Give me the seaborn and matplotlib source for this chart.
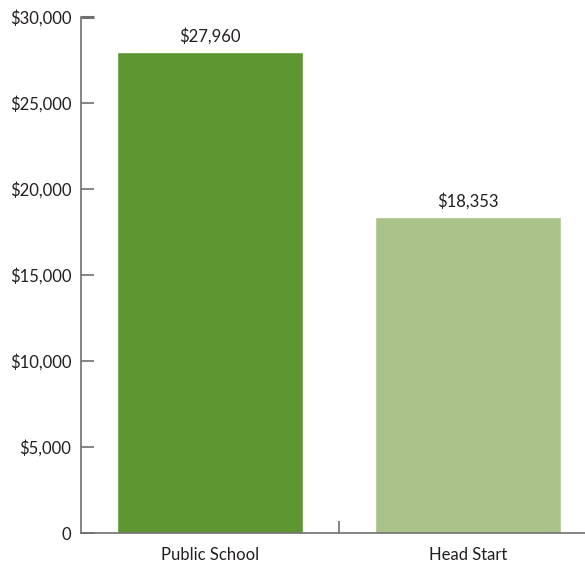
import pandas as pd
import matplotlib
matplotlib.use("Agg")
import matplotlib.pyplot as plt
import seaborn as sns
from matplotlib.ticker import FuncFormatter

# donnees
categories = ["Public School", "Head Start"]
costs = [27960, 18353]
bar_colors = ["#5e9732", "#a8c28a"]
value_labels = ["$27,960", "$18,353"]
y_ticks = [0, 5000, 10000, 15000, 20000, 25000, 30000]

sns.set_style("white")
plt.rcParams["font.family"] = ["Lato", "DejaVu Sans"]
text_color = "#231f20"
axis_color = "#707070"

df = pd.DataFrame({"category": categories, "cost": costs})

fig = plt.figure(figsize=(5.85, 5.62), dpi=100)
ax = fig.add_axes([81 / 585, 29 / 562, 504 / 585, 516 / 562])

sns.barplot(data=df, x="category", y="cost", hue="category",
            palette=bar_colors, legend=False, width=0.72,
            saturation=1, ax=ax)

for i, (v, lab) in enumerate(zip(costs, value_labels)):
    ax.text(i, v + 450, lab, ha="center", va="bottom",
            fontsize=12, color=text_color)

ax.set_xlim(-0.5, 1.453)
ax.set_ylim(0, 30000)
ax.set_yticks(y_ticks)
ax.yaxis.set_major_formatter(
    FuncFormatter(lambda v, p: "0" if v == 0 else f"${v:,.0f}"))
ax.set_xlabel("")
ax.set_ylabel("")

for s in ["top", "right"]:
    ax.spines[s].set_visible(False)
for s in ["left", "bottom"]:
    ax.spines[s].set_color(axis_color)
    ax.spines[s].set_linewidth(1.2)

ax.tick_params(axis="y", direction="in", length=9, width=1.2,
               color=axis_color, pad=7, labelsize=12,
               labelcolor=text_color, left=True)
ax.tick_params(axis="x", which="major", length=0, pad=10,
               labelsize=12, labelcolor=text_color)
ax.set_xticks([0.5], minor=True)
ax.tick_params(axis="x", which="minor", direction="in", length=9,
               width=1.2, color=axis_color, bottom=True)

top_tick = ax.yaxis.get_major_ticks()[-1]
top_tick.tick1line.set_color("#222222")
top_tick.tick1line.set_markeredgewidth(2.2)

fig.savefig("out.png", dpi=100)
